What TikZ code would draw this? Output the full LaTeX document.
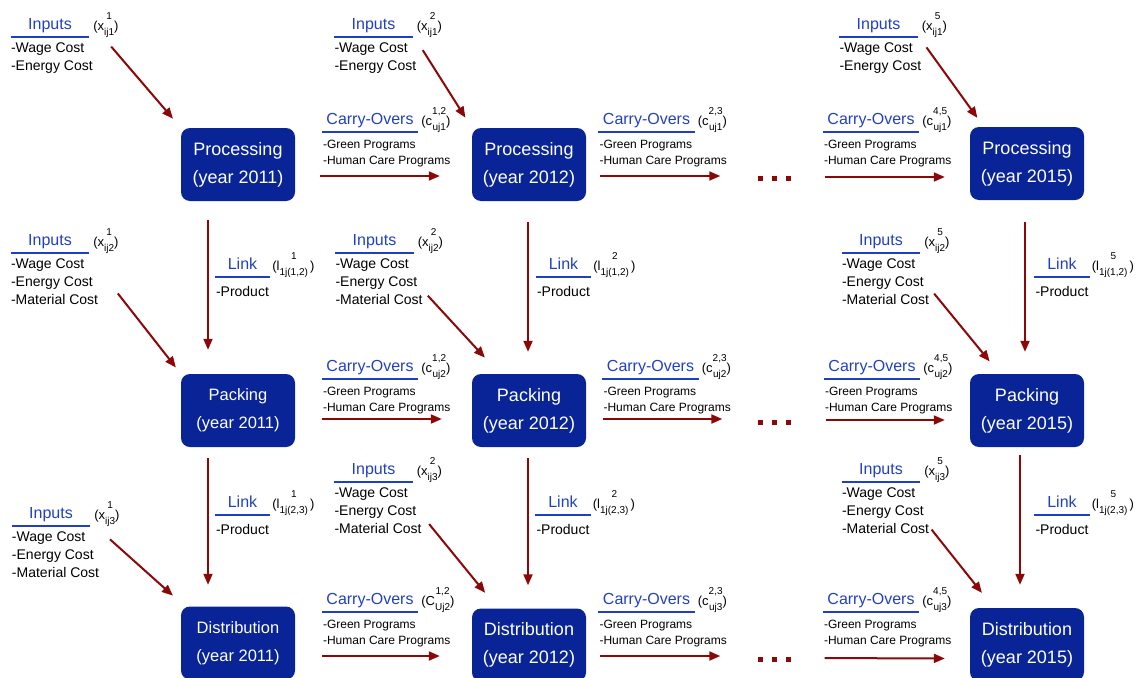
\documentclass[tikz,border=0pt]{standalone}
\usepackage{fontspec}
\setmainfont{Liberation Sans}
\usetikzlibrary{positioning,arrows.meta}
\definecolor{pblue}{RGB}{8,36,150}
\definecolor{ublue}{RGB}{32,64,196}
\definecolor{ared}{RGB}{140,8,8}
\newcommand{\stk}[2]{\raisebox{-5pt}{\fontsize{10}{16}\selectfont\begin{tabular}[b]{@{}c@{}}#1\\#2\end{tabular}}}
\newcommand{\idx}[3]{(#1\stk{#2}{#3})}
\newcommand{\sq}{\rule{5pt}{5pt}}
\tikzset{
  box/.style={fill=pblue, text=white, rounded corners=9pt, minimum width=114pt,
    minimum height=73pt, align=center, font=\fontsize{18}{28}\selectfont},
  ttl/.style={text=ublue, font=\fontsize{16}{18}\selectfont, inner xsep=0pt,
    inner ysep=2pt, text height=12pt, text depth=5pt},
  ttlin/.style={ttl, minimum width=78pt},
  ttlco/.style={ttl, minimum width=96pt},
  ttllk/.style={ttl, minimum width=55pt},
  uline/.style={draw=ublue, line width=1.8pt},
  lbl/.style={inner sep=0pt, font=\fontsize{13}{15}\selectfont},
  itemsin/.style={anchor=north west, align=left, inner sep=1pt, font=\fontsize{14}{18}\selectfont},
  itemsco/.style={itemsin, font=\fontsize{12}{16}\selectfont},
  flow/.style={draw=ared, line width=2pt, -{Triangle[length=11pt,width=9pt]}},
  dots/.style={inner sep=0pt, text=ared}
}
\begin{document}
\begin{tikzpicture}[x=1pt, y=-1pt, line join=round]
\useasboundingbox (0,0) rectangle (1137,677);
% stages
\node[box] (p11) at (238,164.5) {Processing\\(year 2011)};
\node[box] (p12) at (529,164.5) {Processing\\(year 2012)};
\node[box] (p15) at (1027,163.5) {Processing\\(year 2015)};
\node[box, font=\fontsize{16.5}{28}\selectfont] (p21) at (238,410.5) {Packing\\(year 2011)};
\node[box] (p22) at (529,410.5) {Packing\\(year 2012)};
\node[box] (p25) at (1027,410.5) {Packing\\(year 2015)};
\node[box, font=\fontsize{16.5}{28}\selectfont] (p31) at (238,643) {Distribution\\(year 2011)};
\node[box] (p32) at (529,645) {Distribution\\(year 2012)};
\node[box] (p35) at (1027,644.5) {Distribution\\(year 2015)};
% inputs
\foreach \n/\x/\y/\hi/\lo/\lst in {in11/50/26/1/ij1/{-Wage Cost\\-Energy Cost},
    in12/373.5/26/2/ij1/{-Wage Cost\\-Energy Cost},
    in15/878.5/26/5/ij1/{-Wage Cost\\-Energy Cost},
    in21/50/242/1/ij2/{-Wage Cost\\-Energy Cost\\-Material Cost},
    in22/374.5/242/2/ij2/{-Wage Cost\\-Energy Cost\\-Material Cost},
    in25/881/242/5/ij2/{-Wage Cost\\-Energy Cost\\-Material Cost},
    in31/51/515/1/ij3/{-Wage Cost\\-Energy Cost\\-Material Cost},
    in32/373.5/471/2/ij3/{-Wage Cost\\-Energy Cost\\-Material Cost},
    in35/881/471/5/ij3/{-Wage Cost\\-Energy Cost\\-Material Cost}}{
  \node[ttlin] (t\n) at (\x,\y) {Inputs};
  \node[lbl, base right=4pt of t\n, yshift=-1pt] (l\n) {\idx{x}{\hi}{\lo}};
  \node[itemsin] (\n) at ([xshift=-1pt,yshift=-5pt]t\n.south west) {\lst};
  \draw[uline] (t\n.south west) -- (t\n.south east);
}
% carry-overs
\foreach \n/\x/\y/\cv/\hi/\lo in {co1a/370/121/c/{1,2}/uj1, co1b/646.5/121/c/{2,3}/uj1,
    co1c/871/121/c/{4,5}/uj1, co2a/370/368/c/{1,2}/uj2, co2b/650.5/368/c/{2,3}/uj2,
    co2c/872/368/c/{4,5}/uj2, co3a/370/601/C/{1,2}/Uj2, co3b/646.5/601/c/{2,3}/uj3,
    co3c/871/601/c/{4,5}/uj3}{
  \node[ttlco] (t\n) at (\x,\y) {Carry-Overs};
  \node[lbl, base right=3pt of t\n, yshift=-1pt] (l\n) {\idx{\cv}{\hi}{\lo}};
  \node[itemsco] (\n) at ([xshift=0pt,yshift=-7.5pt]t\n.south west) {-Green Programs\\-Human Care Programs};
  \draw[uline] (t\n.south west) -- (t\n.south east);
}
% links
\foreach \n/\x/\y/\hi/\lo in {lk1a/242.5/266/1/{1j(1,2)}, lk1b/563.5/266/2/{1j(1,2)},
    lk1c/1062/266/5/{1j(1,2)}, lk2a/242.5/504/1/{1j(2,3)}, lk2b/563/504/2/{1j(2,3)},
    lk2c/1062/504/5/{1j(2,3)}}{
  \node[ttllk] (t\n) at (\x,\y) {Link};
  \node[lbl, base right=2pt of t\n, yshift=-1pt] (l\n) {(l\stk{\hi}{\lo}\,)};
  \node[itemsin] (\n) at ([xshift=0pt,yshift=-8pt]t\n.south west) {-Product};
  \draw[uline] (t\n.south west) -- (t\n.south east);
}
% gaps between years
\foreach \n/\y in {d1/178, d2/422, d3/659}
  \node[dots] (\n) at (774,\y) {\sq\hspace{9pt}\sq\hspace{9pt}\sq};
% inputs into stages
\draw[flow, shorten <=8pt, shorten >=12pt] (lin11.south) -- (p11.north west);
\draw[flow, shorten <=10pt, shorten >=12pt] (in12.north east) -- (p12.north west);
\draw[flow, shorten <=7pt, shorten >=11pt] (in15.north east) -- ([xshift=14pt]p15.north west);
\draw[flow, shorten <=30pt, shorten >=8pt] (in21.15) -- (p21.north west);
\draw[flow, shorten <=6pt, shorten >=22pt] (in22.-12) -- ([xshift=28pt]p22.north west);
\draw[flow, shorten <=6pt, shorten >=16pt] (in25.-9) -- ([xshift=30pt]p25.north west);
\draw[flow, shorten <=13pt, shorten >=16pt] (in31.north east) -- ([xshift=4pt]p31.north west);
\draw[flow, shorten <=10pt, shorten >=20pt] (in32.-7) -- ([xshift=26pt]p32.north west);
\draw[flow, shorten <=2pt, shorten >=19pt] (in35.-21) -- ([xshift=24pt]p35.north west);
% links between stages
\draw[flow, shorten <=19pt, shorten >=24pt] ([xshift=-30pt]p11.south) -- ([xshift=-30pt]p21.north);
\draw[flow, shorten <=21pt, shorten >=22pt] ([xshift=-1pt]p12.south) -- ([xshift=-1pt]p22.north);
\draw[flow, shorten <=22pt, shorten >=22pt] ([xshift=-2pt]p15.south) -- ([xshift=-2pt]p25.north);
\draw[flow, shorten <=11pt, shorten >=21.5pt] ([xshift=-30pt]p21.south) -- ([xshift=-30pt]p31.north);
\draw[flow, shorten <=11pt, shorten >=23pt] ([xshift=-1pt]p22.south) -- ([xshift=-1pt]p32.north);
\draw[flow, shorten <=8pt, shorten >=23pt] ([xshift=-7pt]p25.south) -- ([xshift=-7pt]p35.north);
% carry-overs between years
\draw[flow, shorten <=25pt, shorten >=32pt] ([yshift=-11.5pt]p11.east) -- ([yshift=-11.5pt]p12.west);
\draw[flow, shorten <=14pt, shorten >=37pt] ([yshift=-11.5pt]p12.east) -- ([yshift=2pt]d1.west);
\draw[flow, shorten <=34pt, shorten >=25pt] ([yshift=1pt]d1.east) -- ([yshift=-13.5pt]p15.west);
\draw[flow, shorten <=27pt, shorten >=30pt] ([yshift=-8.5pt]p21.east) -- ([yshift=-8.5pt]p22.west);
\draw[flow, shorten <=17pt, shorten >=35pt] ([yshift=-8.5pt]p22.east) -- ([yshift=3pt]d2.west);
\draw[flow, shorten <=35pt, shorten >=25pt] ([yshift=2pt]d2.east) -- ([yshift=-9.5pt]p25.west);
\draw[flow, shorten <=27pt, shorten >=32pt] ([yshift=-13pt]p31.east) -- ([yshift=-11pt]p32.west);
\draw[flow, shorten <=14pt, shorten >=37pt] ([yshift=-11pt]p32.east) -- ([yshift=3pt]d3.west);
\draw[flow, shorten <=34pt, shorten >=25pt] ([yshift=1pt]d3.east) -- ([yshift=-14pt]p35.west);
\end{tikzpicture}
\end{document}
